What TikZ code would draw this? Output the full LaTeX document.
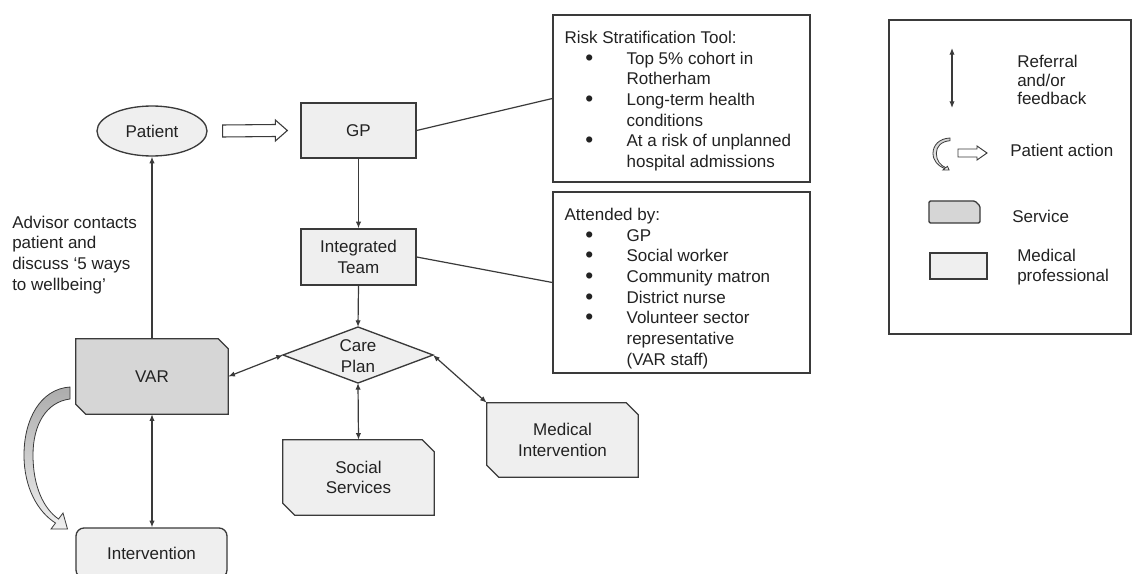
\documentclass[tikz,border=0pt]{standalone}
\usepackage{fontspec}
\setmainfont{Liberation Sans}
\usetikzlibrary{arrows.meta,shapes.geometric,calc,backgrounds}

\definecolor{ink}{HTML}{3A3A3A}
\definecolor{txt}{HTML}{222222}
\definecolor{medfill}{HTML}{EFEFEF}
\definecolor{svcfill}{HTML}{D6D6D6}

\newcommand{\bul}{\makebox[46.5pt][l]{\hspace*{15.5pt}\raisebox{-0.9pt}{\fontsize{17}{0}\selectfont\textbullet}}}
\newcommand{\ind}{\hspace*{46.5pt}}

% outline of a box with the north-east and south-west corners cut off
\newcommand{\cutbox}[3]{%
  \filldraw[draw=ink, line width=1pt, fill=#3]
    (#1.north west) -- ([xshift=-#2]#1.north east) -- ([yshift=-#2]#1.north east)
    -- (#1.south east) -- ([xshift=#2]#1.south west) -- ([yshift=#2]#1.south west) -- cycle;}

% curved block arrow (patient action)
\newcommand{\bendarrow}[1]{%
  \draw[#1] (70,387) .. controls (40,389) and (24,420) .. (24,455)
    .. controls (24,488) and (38,512) .. (55.5,523)
    -- (51,529) -- (67.5,529) -- (63,513) -- (58.5,519)
    .. controls (44,509) and (33,487) .. (33,455)
    .. controls (33,425) and (46,402) .. (70,399) -- cycle;}

\tikzset{
  lbl/.style={text=txt, font=\fontsize{12.75}{15.5}\selectfont, align=center, inner sep=0pt},
  medbox/.style={lbl, draw=ink, line width=1pt, fill=medfill},
  bare/.style={lbl},
  panel/.style={draw=ink, line width=1pt, fill=white, inner sep=0pt},
  note/.style={text=txt, font=\fontsize{12.75}{15.5}\selectfont, align=left, inner sep=0pt},
  link/.style={draw=ink, line width=0.9pt},
  tip/.style={-{Latex[length=5pt,width=4pt]}},
  tips/.style={{Latex[length=5pt,width=4pt]}-{Latex[length=5pt,width=4pt]}},
  bend/.style={draw=ink, line width=0.6pt, top color=#1, bottom color=medfill},
  block/.style={draw=ink, line width=0.8pt, fill=white, line join=miter}
}

\begin{document}
\begin{tikzpicture}[x=0.75pt,y=-0.75pt]
\clip (0,0) rectangle (1143,574);
\begin{scope}[on background layer]
  \fill[white] (0,0) rectangle (1143,574);
\end{scope}

% ---- main flow ----
\node[medbox, ellipse, minimum width=82.5pt, minimum height=37.5pt] (pat) at (152,131) {Patient};
\node[medbox, minimum width=86.25pt, minimum height=41.25pt] (gp) at (358.5,130.5) {GP};
\node[medbox, minimum width=86.25pt, minimum height=42pt] (team) at (358.5,257) {Integrated\\Team};

\node[bare] (cp) at (358,356) {Care\\Plan};
\coordinate (cpT) at (358,327);
\coordinate (cpB) at (358,383);
\coordinate (cpL) at (283,355);
\coordinate (cpR) at (433,355);

\node[bare, minimum width=114pt, minimum height=56.25pt] (var) at (152,376.5) {VAR};
\node[bare, minimum width=113.25pt, minimum height=56.25pt] (ss) at (358.5,477.5) {Social\\Services};
\node[bare, minimum width=113.25pt, minimum height=55.5pt] (mi) at (562.5,440) {Medical\\Intervention};
\node[medbox, rounded corners=6pt, minimum width=113.25pt, minimum height=37.5pt] (intv) at (151.5,553) {Intervention};

\begin{scope}[on background layer]
  \filldraw[draw=ink, line width=1pt, fill=medfill] (cpT) -- (cpR) -- (cpB) -- (cpL) -- cycle;
  \cutbox{var}{7.5pt}{svcfill}
  \cutbox{ss}{9pt}{medfill}
  \cutbox{mi}{9pt}{medfill}
\end{scope}

% patient goes to the GP
\coordinate (paS) at ($(pat.east)+(15,0)$);
\coordinate (paT) at ($(gp.west)+(-13,0)$);
\draw[block] ($(paS)+(0,-6)$) -- ($(paT)+(-12,-6)$) -- ($(paT)+(-12,-10.5)$) -- (paT)
  -- ($(paT)+(-12,10.5)$) -- ($(paT)+(-12,6)$) -- ($(paS)+(0,6)$) -- cycle;

\draw[link, tip] (gp.south) -- (team.north);
\draw[link, tip] (team.south) -- (cpT);
\draw[link, tips] (cpL) -- (var.east);
\draw[link, tips] (cpB) -- (ss.north);
\draw[link, tips] (cpR) -- (mi.west |- mi.north);
\draw[link, tip] (var.north) -- (pat.south);
\draw[link, tips] (var.south) -- (var.south |- intv.north);

\node[note, anchor=north west] (advice) at (12,215.5)
  {Advisor contacts\\patient and\\discuss ‘5 ways\\to wellbeing’};

\bendarrow{bend=gray!65!white}

% ---- information panels ----
\node[panel, minimum width=192.75pt, minimum height=125.25pt] (risk) at (681.5,98.5) {};
\node[panel, minimum width=192.75pt, minimum height=135.75pt] (att) at (681.5,282.5) {};
\draw[link] (gp.east) -- (risk.west);
\draw[link] (team.east) -- (att.west);

\node[note, anchor=north west] (risktxt) at ($(risk.north west)+(12,16.5)$)
  {Risk Stratification Tool:\\
   \bul Top 5\% cohort in\\
   \ind Rotherham\\
   \bul Long-term health\\
   \ind conditions\\
   \bul At a risk of unplanned\\
   \ind hospital admissions};
\node[note, anchor=north west] (atttxt) at ($(att.north west)+(12,16.5)$)
  {Attended by:\\
   \bul GP\\
   \bul Social worker\\
   \bul Community matron\\
   \bul District nurse\\
   \bul Volunteer sector\\
   \ind representative\\
   \ind (VAR staff)};

% ---- legend ----
\node[panel, minimum width=181.5pt, minimum height=235.5pt] (legend) at (1010,177) {};

\coordinate (lgA) at (952,48);
\coordinate (lgB) at (952,108);
\draw[link, tips] (lgA) -- (lgB);
\node[note, anchor=west, font=\fontsize{12.75}{14}\selectfont] (lgref) at (1017,80) {Referral\\and/or\\feedback};

\begin{scope}[shift={(933,138)}, xscale=0.37, yscale=0.225, shift={(-24,-387)}]
  \bendarrow{bend=gray!35!white}
\end{scope}
\coordinate (lpS) at (958,153);
\coordinate (lpT) at (987,153);
\draw[block, line width=0.7pt] ($(lpS)+(0,-4)$) -- ($(lpT)+(-10,-4)$) -- ($(lpT)+(-10,-7)$) -- (lpT)
  -- ($(lpT)+(-10,7)$) -- ($(lpT)+(-10,4)$) -- ($(lpS)+(0,4)$) -- cycle;
\node[note, anchor=west] (lgpat) at (1010,150) {Patient action};

\coordinate (lsNW) at (929,201);
\coordinate (lsSE) at (980,223);
\filldraw[draw=ink, line width=1pt, fill=svcfill, rounded corners=1pt]
  (lsNW) -- ($(lsSE |- lsNW)+(-5,0)$) -- ($(lsSE |- lsNW)+(0,5)$) -- (lsSE) -- (lsNW |- lsSE) -- cycle;
\node[note, anchor=west] (lgsvct) at (1012,216) {Service};

\node[medbox, minimum width=42.75pt, minimum height=19.5pt] (lgmed) at (958.5,266) {};
\node[note, anchor=west, font=\fontsize{12.75}{15}\selectfont] (lgmedt) at (1017,267) {Medical\\professional};

\end{tikzpicture}
\end{document}
